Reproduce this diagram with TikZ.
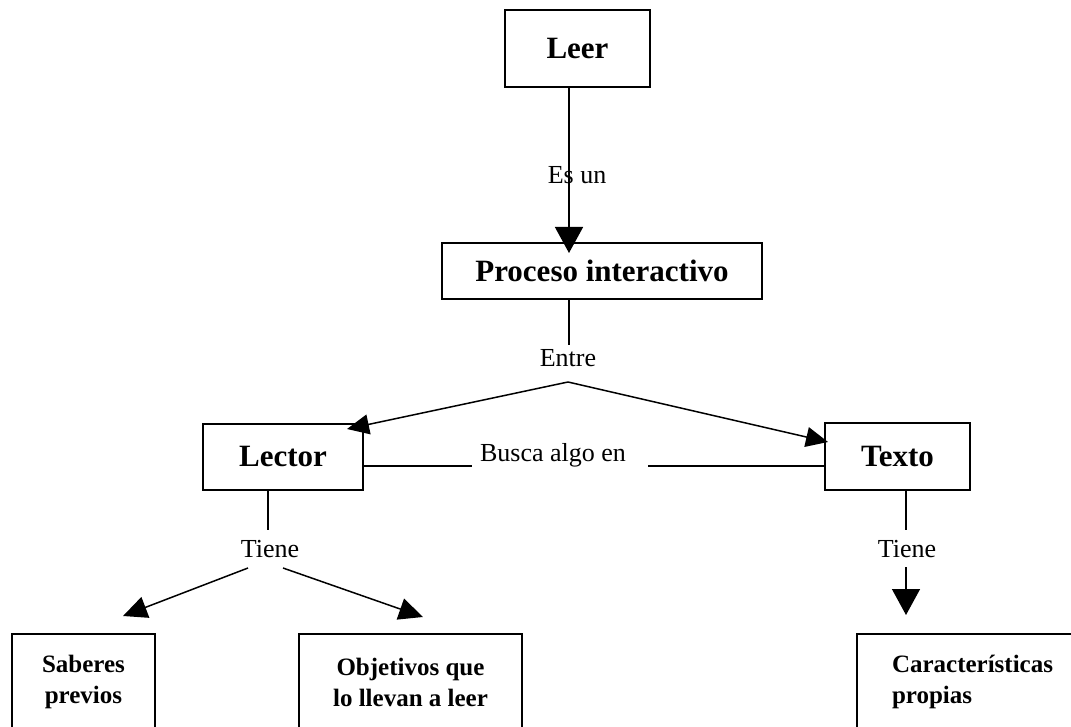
\documentclass[tikz,border=0pt]{standalone}
\usepackage{fontspec}
\setmainfont{Liberation Serif}
\usetikzlibrary{arrows.meta}
\tikzset{
  bigbox/.style={draw, line width=1.5pt, font=\fontsize{31}{37}\selectfont\bfseries, inner sep=0pt},
  lowbox/.style={draw, line width=1.5pt, font=\fontsize{25}{31}\selectfont\bfseries, inner sep=0pt, minimum height=96pt},
  lbl/.style={font=\fontsize{26}{31}\selectfont, inner sep=0pt},
  conn/.style={line width=1.5pt},
  bigtip/.style={conn, -{Triangle[length=26pt,width=28pt]}},
  midtip/.style={conn, -{Triangle[length=22pt,width=20pt]}},
  smtip/.style={conn, -{Triangle[length=24pt,width=22pt]}}
}
\begin{document}
\begin{tikzpicture}[x=1pt,y=-1pt]
\useasboundingbox (0,0) rectangle (1071,727);
\clip (0,0) rectangle (1071,727);
\fill[white] (0,0) rectangle (1071,727);

% boxes
\node[bigbox, minimum width=145pt, minimum height=77pt] (leer) at (577.5,48.5) {Leer};
\node[bigbox, minimum width=320pt, minimum height=56pt] (proceso) at (602,271) {Proceso interactivo};
\node[bigbox, minimum width=160pt, minimum height=66pt] (lector) at (283,457) {Lector};
\node[bigbox, minimum width=145pt, minimum height=67pt] (texto) at (897.5,456.5) {Texto};
\node[lowbox, minimum width=143pt, align=center] (saberes) at (83.5,682) {Saberes\\previos};
\node[lowbox, minimum width=223pt, align=center] (objetivos) at (410.5,682) {Objetivos que\\lo llevan a leer};
\node[lowbox, text width=190pt, inner xsep=35pt, align=left] (caract) at (987,682) {Características\\propias};

% labels
\node[lbl] (esun) at (577,175) {Es un};
\node[lbl] (entre) at (568,358) {Entre};
\node[lbl] (busca) at (553,455) {Busca algo en};
\node[lbl] (tiene1) at (270,549) {Tiene};
\node[lbl] (tiene2) at (907,549) {Tiene};

% coordinates
\coordinate (t1) at (569,253);
\coordinate (e0) at (569,345);
\coordinate (apex) at (568,382);
\coordinate (lt) at (347,429);
\coordinate (rt) at (828,442);
\coordinate (b1) at (472,466);
\coordinate (b2) at (648,466);
\coordinate (l1) at (268,530);
\coordinate (l2s) at (248,568);
\coordinate (l2t) at (123,616);
\coordinate (l3s) at (283,568);
\coordinate (l3t) at (423,617);
\coordinate (x1) at (906,530);
\coordinate (x2s) at (906,567);
\coordinate (x2t) at (906,615);

% connectors
\draw[bigtip] (leer.south -| t1) -- (t1);
\draw[conn] (proceso.south -| e0) -- (e0);
\draw[midtip] (apex) -- (lt);
\draw[midtip] (apex) -- (rt);
\draw[conn] (lector.east |- b1) -- (b1);
\draw[conn] (b2) -- (texto.west |- b2);
\draw[conn] (lector.south -| l1) -- (l1);
\draw[smtip] (l2s) -- (l2t);
\draw[smtip] (l3s) -- (l3t);
\draw[conn] (texto.south -| x1) -- (x1);
\draw[bigtip] (x2s) -- (x2t);
\end{tikzpicture}
\end{document}
